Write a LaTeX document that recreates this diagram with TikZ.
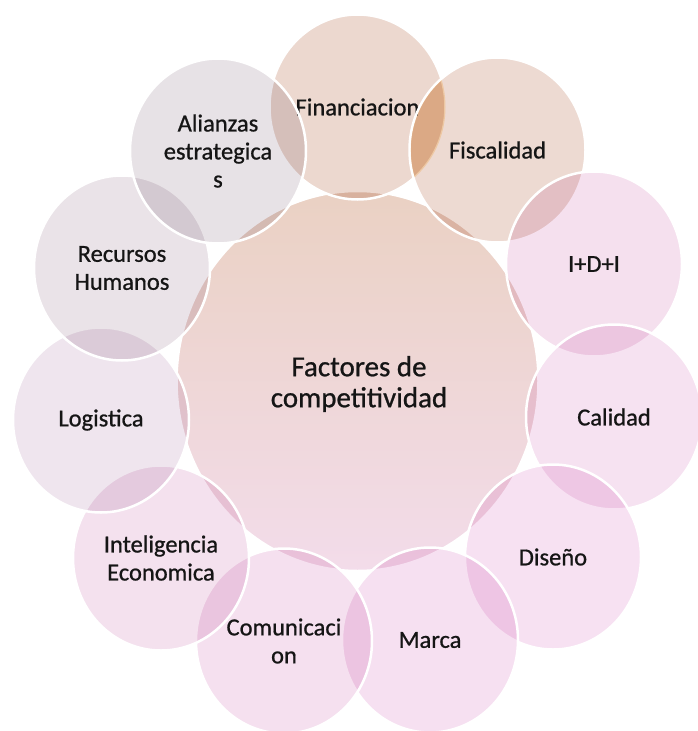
\documentclass[tikz,border=0pt]{standalone}
\usepackage{fontspec}
\setmainfont[FakeBold=0.8]{Carlito}
\usetikzlibrary{shapes.geometric}
\definecolor{cTop}{HTML}{EAD1C3}
\definecolor{cBot}{HTML}{F3DCEA}
\definecolor{cFin}{HTML}{ECD8CF}
\definecolor{cFis}{HTML}{EDDAD2}
\definecolor{cIdi}{HTML}{F5E0EE}
\definecolor{cCal}{HTML}{F6E2F1}
\definecolor{cDis}{HTML}{F7E1F2}
\definecolor{cMar}{HTML}{F6E0F1}
\definecolor{cCom}{HTML}{F5E0EF}
\definecolor{cInt}{HTML}{F4E1EE}
\definecolor{cLog}{HTML}{EFE5EE}
\definecolor{cRec}{HTML}{EAE3E8}
\definecolor{cAli}{HTML}{E7E2E6}
\definecolor{cLens}{HTML}{FFEBC8}
\definecolor{txt}{HTML}{151515}
\tikzset{
  ringnode/.style={ellipse, draw=white, line width=2.5pt, minimum width=176pt,
    minimum height=185pt, inner sep=0pt, align=center,
    font=\fontsize{24.5}{28}\selectfont, text=txt},
  hubnode/.style={inner sep=0pt, align=center,
    font=\fontsize{29}{31}\selectfont, text=txt},
}
\begin{document}
\begin{tikzpicture}[x=1pt,y=-1pt]
\useasboundingbox[fill=white] (0,0) rectangle (698,731);
\shadedraw[top color=cTop, bottom color=cBot, draw=white, line width=2.5pt]
  (357.5,381) ellipse [x radius=181, y radius=190];
\node[hubnode] (hub) at (359,384) {Factores de\\competitividad};
\foreach \n/\x/\y/\c/\t in {
  fin/357.5/107/cFin/{Financiacion},
  fis/497.5/150/cFis/{Fiscalidad},
  idi/594/264/cIdi/{I+D+I},
  cal/614/417/cCal/{Calidad},
  dis/553/557/cDis/{Diseño},
  mar/430/640/cMar/{Marca},
  com/284/641/cCom/{Comunicaci\\on},
  int/161/558/cInt/{Inteligencia\\Economica},
  log/101/420/cLog/{Logistica},
  rec/122/268/cRec/{Recursos\\Humanos},
  ali/218/151/cAli/{Alianzas\\estrategica\\s}}{
  \begin{scope}[blend mode=multiply]
    \fill[\c] (\x,\y) ellipse [x radius=88, y radius=92.5];
  \end{scope}
  \node[ringnode] (\n) at (\x,\y) {\t};
}
% warmer tint where Financiacion and Fiscalidad overlap
\begin{scope}[blend mode=multiply]
  \clip (fin.center) ellipse [x radius=88, y radius=92.5];
  \fill[cLens] (fis.center) ellipse [x radius=86.8, y radius=91.3];
\end{scope}
\end{tikzpicture}
\end{document}
